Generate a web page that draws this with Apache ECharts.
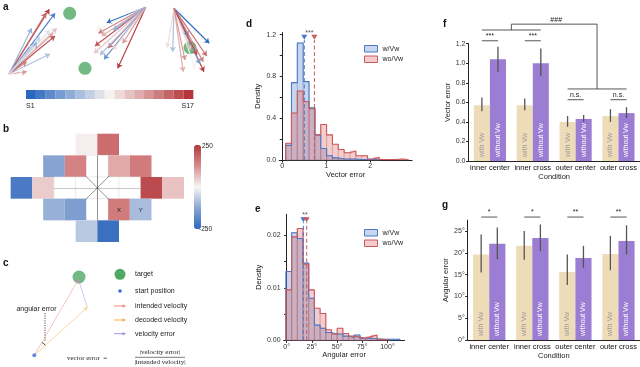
<!DOCTYPE html>
<html>
<head>
<meta charset="utf-8">
<title>Vector / angular error figure</title>
<script src="https://cdn.jsdelivr.net/npm/echarts@6.0.0/dist/echarts.min.js"></script>
<style>
  html, body { margin: 0; padding: 0; background: #fff; }
  #main { width: 640px; height: 367px; }
</style>
</head>
<body>
<div id="main"></div>
<script>
'use strict';

// ---------- data ----------
// panel a: three fans of decoded velocity vectors (origin + tip, session index 0..16)
var fanOrigins = [[9, 74], [145.7, 7.3], [174, 8.3]];
var fanTips = [
  [[49.3, 9.3, 16], [46, 13, 14], [55, 13.3, 1], [31.7, 28.3, 4], [56.7, 28.3, 10], [53.3, 33.3, 11],
   [55, 36, 15], [37.3, 42.7, 2], [50, 54, 5], [33.3, 45, 9], [26.7, 61.7, 13], [26.7, 71.7, 12],
   [23.3, 70, 8], [50, 30, 7], [40, 36.7, 6]],
  [[106.7, 22.7, 0], [96, 30, 8], [98.3, 33.3, 13], [95, 46, 15], [94, 53.3, 10], [104, 59.3, 2],
   [117.7, 68.3, 16], [122.7, 43.3, 12], [112.7, 50, 9], [101.7, 36, 11], [113.3, 30, 4], [108, 48, 14],
   [100, 55, 5]],
  [[209.3, 43.3, 0], [206.7, 56, 14], [204, 71.7, 16], [200, 64, 3], [172.7, 51.7, 5], [167.3, 47.7, 9],
   [183.3, 71.7, 11], [195, 68.3, 8], [190.7, 50, 10], [188.3, 36, 2], [203.3, 61.7, 13], [197, 55, 15],
   [185, 60, 12]]
];
var targets = [[69.7, 13.3], [85, 68.3], [190, 47.7]];
var sessionCount = 17;

// panel b: tuning map cells [column, row, value]
var tuningCells = [
  [3, 0, 10], [4, 0, 170],
  [1.5, 1, -130], [2.5, 1, 140], [3.5, 1, 0], [4.5, 1, 90], [5.5, 1, 150],
  [0, 2, -210], [1, 2, 50], [2, 2, 0], [3, 2, 0], [4, 2, 0], [5, 2, 0], [6, 2, 220], [7, 2, 60],
  [1.5, 3, -110], [2.5, 3, -140], [3.5, 3, 0], [4.5, 3, 150], [5.5, 3, -90],
  [3, 4, -70], [4, 4, -230]
];
var cellTags = ['', '', '', '', '', '', '', '', '', '', '', '', '', '', '', '', '', '', 'X', 'Y', '', ''];
var crossSegments = [
  [[1.5, 2], [5.5, 2], '#888'],
  [[3.5, 0.5], [3.5, 3.5], '#111'],
  [[2.96, 1.46], [4.04, 2.54], '#111'],
  [[2.96, 2.54], [4.04, 1.46], '#111']
];

// panel c: schematic
var startPos = [34.3, 355.3];
var targetPos = [79, 277];
var intendedTip = [78.5, 279.5];
var decodedTip = [87.3, 307.3];

// panel d: vector error histograms
var binStartD = 0.076, binWidthD = 0.133;
var densBlueD = [0.14, 0.74, 1.12, 0.75, 0.50, 0.24, 0.11, 0.04, 0.02, 0.01, 0.01, 0.01, 0.005, 0.005, 0.005, 0.003];
var densRedD = [0.16, 0.45, 0.66, 0.56, 0.49, 0.24, 0.34, 0.24, 0.15, 0.10, 0.07, 0.086, 0.04, 0.04, 0.01, 0.025, 0.005, 0.005, 0.005, 0.01, 0.005];
var meansD = [0.50, 0.73];

// panel e: angular error histograms
var binStartE = -0.7, binWidthE = 5.65;
var densBlueE = [0.0131, 0.0205, 0.0194, 0.0147, 0.0080, 0.0029, 0.0023, 0.0015, 0.0012, 0.0012, 0.0008, 0.0005, 0.0010, 0.0004, 0.0004, 0.0003, 0.0002, 0.0002, 0.0002, 0.0002];
var densRedE = [0.0096, 0.0197, 0.0213, 0.0145, 0.0096, 0.0061, 0.0051, 0.0020, 0.0012, 0.0023, 0.0013, 0.0008, 0.0006, 0.0004, 0.0007, 0.0010, 0.0002, 0.0001];
var meansE = [16.6, 19.9];

// panels f, g
var conditions = ['inner center', 'inner cross', 'outer center', 'outer cross'];
var vecWith = [0.57, 0.57, 0.40, 0.46];
var vecWithout = [1.04, 1.00, 0.43, 0.49];
var vecWithCI = [[0.51, 0.65], [0.52, 0.64], [0.35, 0.46], [0.40, 0.53]];
var vecWithoutCI = [[0.91, 1.17], [0.87, 1.15], [0.40, 0.47], [0.44, 0.55]];
var vecSig = ['***', '***', 'n.s.', 'n.s.'];
var angWith = [19.6, 21.6, 15.6, 19.7];
var angWithout = [22.1, 23.4, 18.8, 22.7];
var angWithCI = [[15.5, 24.2], [18.4, 25.0], [12.6, 19.6], [16.0, 23.9]];
var angWithoutCI = [[18.5, 25.8], [20.4, 26.5], [16.5, 21.6], [19.6, 26.3]];
var angSig = ['*', '*', '**', '**'];

// ---------- helpers ----------
var FONT = 'Liberation Sans';
var C_BLUE = '#4a78c4', C_RED = '#c9595c';
var C_BEIGE = '#eedcb8', C_PURPLE = '#9b7ed3';

function mix(a, b, t) {
  var pa = [parseInt(a.substr(1, 2), 16), parseInt(a.substr(3, 2), 16), parseInt(a.substr(5, 2), 16)];
  var pb = [parseInt(b.substr(1, 2), 16), parseInt(b.substr(3, 2), 16), parseInt(b.substr(5, 2), 16)];
  return 'rgb(' + pa.map(function (v, i) { return Math.round(v + (pb[i] - v) * t); }).join(',') + ')';
}
function sessionColor(i) {
  var t = i / (sessionCount - 1);
  return t < 0.5 ? mix('#2a68bf', '#f6f2f0', t * 2) : mix('#f6f2f0', '#b5363a', (t - 0.5) * 2);
}

function bins(start, width, dens) {
  return dens.map(function (h, i) { return [start + i * width, start + (i + 1) * width, h]; });
}
function stepOutline(start, width, dens) {
  var pts = [[start, 0]];
  dens.forEach(function (h, i) { pts.push([start + i * width, h]); });
  pts.push([start + dens.length * width, 0]);
  return pts;
}
function histRender(fill, stroke) {
  return function (params, api) {
    var a = api.coord([api.value(0), api.value(2)]);
    var b = api.coord([api.value(1), 0]);
    return {
      type: 'rect',
      shape: { x: a[0], y: a[1], width: b[0] - a[0], height: b[1] - a[1] },
      style: { fill: fill, stroke: stroke, lineWidth: 0.7 }
    };
  };
}
function meanRender(colors) {
  return function (params, api) {
    var base = api.coord([api.value(0), 0]);
    var top = api.coord([api.value(0), api.value(1)]);
    var c = colors[params.dataIndex];
    return {
      type: 'group',
      children: [
        { type: 'line', shape: { x1: base[0], y1: base[1], x2: top[0], y2: top[1] },
          style: { stroke: c, lineWidth: 1, lineDash: [4, 2.5] } },
        { type: 'polygon', shape: { points: [[top[0] - 3, top[1] - 5], [top[0] + 3, top[1] - 5], [top[0], top[1]]] },
          style: { fill: c } }
      ]
    };
  };
}
// error bar: [category, low, high, side(-1 with / +1 without)]
function errRender(params, api) {
  var lo = api.coord([api.value(0), api.value(1)]);
  var hi = api.coord([api.value(0), api.value(2)]);
  var band = api.size([1, 0])[0];
  var x = lo[0] + api.value(3) * band * 0.1875;
  return { type: 'line', shape: { x1: x, y1: lo[1], x2: x, y2: hi[1] },
    style: { stroke: '#555', lineWidth: 1.3 } };
}
function sigRender(labels) {
  return function (params, api) {
    var p = api.coord([api.value(0), api.value(1)]);
    var band = api.size([1, 0])[0];
    var x1 = p[0] - band * 0.1875, x2 = p[0] + band * 0.1875;
    return {
      type: 'group',
      children: [
        { type: 'line', shape: { x1: x1, y1: p[1], x2: x2, y2: p[1] }, style: { stroke: '#444', lineWidth: 0.9 } },
        { type: 'text', x: p[0], y: p[1] - 1,
          style: { text: labels[params.dataIndex], fill: '#222', font: '7px ' + FONT, align: 'center', verticalAlign: 'bottom' } }
      ]
    };
  };
}
// group bracket: [lowerLeft y, top y, lowerRight y]
function groupRender(params, api) {
  var band = api.size([1, 0])[0];
  var off = band * 0.1875;
  var l1 = api.coord([0, api.value(0)]), l2 = api.coord([1, api.value(0)]);
  var r1 = api.coord([2, api.value(2)]), r2 = api.coord([3, api.value(2)]);
  var top = api.coord([0, api.value(1)])[1];
  var lm = ((l1[0] - off) + (l2[0] + off)) / 2;
  var rm = ((r1[0] - off) + (r2[0] + off)) / 2;
  var st = { stroke: '#444', lineWidth: 0.9 };
  return {
    type: 'group',
    children: [
      { type: 'line', shape: { x1: l1[0] - off, y1: l1[1], x2: l2[0] + off, y2: l1[1] }, style: st },
      { type: 'line', shape: { x1: r1[0] - off, y1: r1[1], x2: r2[0] + off, y2: r1[1] }, style: st },
      { type: 'polyline', shape: { points: [[lm, l1[1]], [lm, top], [rm, top], [rm, r1[1]]] }, style: { stroke: '#444', lineWidth: 0.9, fill: null } },
      { type: 'text', x: (lm + rm) / 2 + 2, y: top - 1,
        style: { text: '###', fill: '#222', font: '7px ' + FONT, align: 'center', verticalAlign: 'bottom' } }
    ]
  };
}

// ---------- panel a arrows ----------
var arrowData = [];
fanTips.forEach(function (tips, f) {
  tips.forEach(function (t) {
    arrowData.push({ coords: [fanOrigins[f], [t[0], t[1]]], lineStyle: { color: sessionColor(t[2]) } });
  });
});

// ---------- axis templates ----------
var tickFont = { fontSize: 7, color: '#333', fontFamily: FONT };
var nameFont = { fontSize: 7.5, color: '#222', fontFamily: FONT };
var axLine = { show: true, lineStyle: { color: '#222', width: 1 } };
var axTick = { show: true, length: 2.5, lineStyle: { color: '#222' } };
function hiddenAxis(grid, min, max, inverse) {
  return { type: 'value', gridIndex: grid, min: min, max: max, inverse: !!inverse, show: false, splitLine: { show: false } };
}

var myChart = echarts.init(document.getElementById('main'), null, { renderer: 'canvas' });

var graphics = [];
// panel letters
[['a', 3, 7], ['b', 3, 129], ['c', 3, 263], ['d', 246, 24], ['e', 255, 209], ['f', 443, 24], ['g', 442, 205]]
  .forEach(function (l) {
    graphics.push({ type: 'text', x: l[1], y: l[2],
      style: { text: l[0], font: 'bold 10px ' + FONT, fill: '#111', verticalAlign: 'middle' } });
  });
// panel a colour bar (legend of sessions)
for (var s = 0; s < sessionCount; s++) {
  graphics.push({ type: 'rect', shape: { x: 26 + s * 9.84, y: 90, width: 9.9, height: 9 },
    style: { fill: sessionColor(s) } });
}
graphics.push({ type: 'text', x: 26, y: 106.5, style: { text: 'S1', font: '7px ' + FONT, fill: '#222', verticalAlign: 'middle' } });
graphics.push({ type: 'text', x: 194, y: 106.5, style: { text: 'S17', font: '7px ' + FONT, fill: '#222', align: 'right', verticalAlign: 'middle' } });
// panel b colour bar labels
graphics.push({ type: 'text', x: 202, y: 146, style: { text: '250', font: '6.5px ' + FONT, fill: '#222', verticalAlign: 'middle' } });
graphics.push({ type: 'text', x: 199, y: 229.5, style: { text: '-250', font: '6.5px ' + FONT, fill: '#222', verticalAlign: 'middle' } });
// panel c legend
var legC = [['target', 274.3], ['start position', 291], ['intended velocity', 306], ['decoded velocity', 320], ['velocity error', 333.7]];
legC.forEach(function (l) {
  graphics.push({ type: 'text', x: 135, y: l[1], style: { text: l[0], font: '7px ' + FONT, fill: '#222', verticalAlign: 'middle' } });
});
graphics.push({ type: 'circle', shape: { cx: 120, cy: 274.3, r: 5.5 }, style: { fill: '#4fa864' } });
graphics.push({ type: 'circle', shape: { cx: 120, cy: 291, r: 1.8 }, style: { fill: '#3a6fd8' } });
[['#f28b82', 306], ['#f6b24a', 320], ['#a98fe0', 333.7]].forEach(function (a) {
  graphics.push({ type: 'line', shape: { x1: 114, y1: a[1], x2: 125, y2: a[1] }, style: { stroke: a[0], lineWidth: 1 } });
  graphics.push({ type: 'polygon', shape: { points: [[126, a[1]], [122.5, a[1] - 1.8], [122.5, a[1] + 1.8]] }, style: { fill: a[0] } });
});
graphics.push({ type: 'text', x: 36.5, y: 309, style: { text: 'angular error', font: '7px ' + FONT, fill: '#222', align: 'center', verticalAlign: 'middle' } });
graphics.push({ type: 'line', shape: { x1: 45, y1: 313, x2: 45, y2: 341 }, style: { stroke: '#222', lineWidth: 0.8, lineDash: [1.2, 1.2] } });
graphics.push({ type: 'arc', shape: { cx: startPos[0], cy: startPos[1], r: 15, startAngle: -1.05, endAngle: -0.7 }, style: { stroke: '#222', lineWidth: 0.8, fill: null } });
// vector error formula
graphics.push({ type: 'text', x: 67, y: 357.8, style: { text: 'vector error  =', font: '7px "Liberation Serif"', fill: '#222', verticalAlign: 'middle' } });
graphics.push({ type: 'text', x: 160, y: 352.6, style: { text: '|velocity error|', font: '7px "Liberation Serif"', fill: '#222', align: 'center', verticalAlign: 'middle' } });
graphics.push({ type: 'line', shape: { x1: 135, y1: 357.3, x2: 185, y2: 357.3 }, style: { stroke: '#222', lineWidth: 0.6 } });
graphics.push({ type: 'text', x: 160, y: 362.2, style: { text: '|intended velocity|', font: '7px "Liberation Serif"', fill: '#222', align: 'center', verticalAlign: 'middle' } });

var option = {
  backgroundColor: '#fff',
  animation: false,
  textStyle: { fontFamily: FONT },
  grid: [
    { left: 0, top: 0, width: 220, height: 367 },                 // 0: panels a & c canvas
    { left: 10.67, top: 133.7, width: 173.3, height: 108.3 },     // 1: panel b
    { left: 279.2, top: 32.5, width: 132.9, height: 127.5 },      // 2: panel d
    { left: 283.6, top: 214.3, width: 121, height: 126 },         // 3: panel e
    { left: 468.5, top: 43.7, width: 171.5, height: 117.3 },      // 4: panel f
    { left: 467.7, top: 220.1, width: 172.3, height: 119.9 }      // 5: panel g
  ],
  xAxis: [
    hiddenAxis(0, 0, 220),
    hiddenAxis(1, -0.5, 7.5),
    { type: 'value', gridIndex: 2, min: -0.07, max: 2.95, name: 'Vector error', nameLocation: 'middle', nameGap: 10,
      nameTextStyle: nameFont, axisLine: axLine, axisTick: { show: true, length: 2.5, customValues: [0, 1, 2], lineStyle: { color: '#222' } },
      axisLabel: Object.assign({ customValues: [0, 1, 2], margin: 3 }, tickFont), splitLine: { show: false } },
    { type: 'value', gridIndex: 3, min: -3, max: 117, name: 'Angular error', nameLocation: 'middle', nameGap: 10,
      nameTextStyle: nameFont, axisLine: axLine, axisTick: { show: true, length: 2.5, customValues: [0, 25, 50, 75, 100], lineStyle: { color: '#222' } },
      axisLabel: Object.assign({ customValues: [0, 25, 50, 75, 100], margin: 3, formatter: '{value}°' }, tickFont), splitLine: { show: false } },
    { type: 'category', gridIndex: 4, data: conditions, name: 'Condition', nameLocation: 'middle', nameGap: 11,
      nameTextStyle: nameFont, axisLine: axLine, axisTick: { show: false }, axisLabel: Object.assign({ margin: 3, interval: 0 }, tickFont, { fontSize: 7.5, color: '#111' }) },
    { type: 'category', gridIndex: 5, data: conditions, name: 'Condition', nameLocation: 'middle', nameGap: 11,
      nameTextStyle: nameFont, axisLine: axLine, axisTick: { show: false }, axisLabel: Object.assign({ margin: 3, interval: 0 }, tickFont, { fontSize: 7.5, color: '#111' }) }
  ],
  yAxis: [
    hiddenAxis(0, 0, 367, true),
    hiddenAxis(1, -0.5, 4.5, true),
    { type: 'value', gridIndex: 2, min: 0, max: 1.22, name: 'Density', nameLocation: 'middle', nameGap: 17,
      nameTextStyle: nameFont, axisLine: axLine,
      axisTick: { show: true, length: 2.5, customValues: [0, 0.2, 0.4, 0.6, 0.8, 1.0, 1.2], lineStyle: { color: '#222' } },
      axisLabel: Object.assign({ customValues: [0, 0.4, 0.8, 1.2], margin: 3, formatter: function (v) { return v.toFixed(1); } }, tickFont),
      splitLine: { show: false } },
    { type: 'value', gridIndex: 3, min: 0, max: 0.024, name: 'Density', nameLocation: 'middle', nameGap: 21,
      nameTextStyle: nameFont, axisLine: axLine,
      axisTick: { show: true, length: 2.5, customValues: [0, 0.005, 0.01, 0.015, 0.02], lineStyle: { color: '#222' } },
      axisLabel: Object.assign({ customValues: [0, 0.01, 0.02], margin: 3, formatter: function (v) { return v.toFixed(2); } }, tickFont),
      splitLine: { show: false } },
    { type: 'value', gridIndex: 4, min: 0, max: 1.2, interval: 0.2, name: 'Vector error', nameLocation: 'middle', nameGap: 17,
      nameTextStyle: nameFont, axisLine: axLine, axisTick: axTick,
      axisLabel: Object.assign({ margin: 3, formatter: function (v) { return v.toFixed(1); } }, tickFont), splitLine: { show: false } },
    { type: 'value', gridIndex: 5, min: 0, max: 27.5, name: 'Angular error', nameLocation: 'middle', nameGap: 17,
      nameTextStyle: nameFont, axisLine: axLine,
      axisTick: { show: true, length: 2.5, customValues: [0, 5, 10, 15, 20, 25], lineStyle: { color: '#222' } },
      axisLabel: Object.assign({ customValues: [0, 5, 10, 15, 20, 25], margin: 3, formatter: '{value}°' }, tickFont),
      splitLine: { show: false } }
  ],
  visualMap: [{
    type: 'continuous', min: -250, max: 250, seriesIndex: 2, dimension: 2,
    left: 194, top: 145, itemWidth: 7, itemHeight: 84, padding: 0, calculable: false,
    text: null, showLabel: false,
    inRange: { color: ['#2c66bd', '#8aa6d3', '#f7f6f6', '#d98c8d', '#b2373b'] }
  }],
  legend: [
    { top: 45, left: 364, orient: 'vertical', itemWidth: 13, itemHeight: 6.5, itemGap: 3, padding: 0,
      textStyle: { fontSize: 7, color: '#222', fontFamily: FONT },
      data: [
        { name: 'w/Vw', icon: 'rect', itemStyle: { color: 'rgba(74,120,196,0.3)', borderColor: C_BLUE, borderWidth: 1 } },
        { name: 'wo/Vw', icon: 'rect', itemStyle: { color: 'rgba(210,90,90,0.3)', borderColor: C_RED, borderWidth: 1 } }
      ] },
    { top: 229, left: 364, orient: 'vertical', itemWidth: 13, itemHeight: 6.5, itemGap: 3, padding: 0,
      textStyle: { fontSize: 7, color: '#222', fontFamily: FONT },
      data: [
        { name: 'w/Vw', icon: 'rect', itemStyle: { color: 'rgba(74,120,196,0.3)', borderColor: C_BLUE, borderWidth: 1 } },
        { name: 'wo/Vw', icon: 'rect', itemStyle: { color: 'rgba(210,90,90,0.3)', borderColor: C_RED, borderWidth: 1 } }
      ] }
  ],
  graphic: graphics,
  series: [
    // 0: panel a arrows
    { type: 'lines', coordinateSystem: 'cartesian2d', xAxisIndex: 0, yAxisIndex: 0, data: arrowData,
      symbol: ['none', 'arrow'], symbolSize: 5, lineStyle: { width: 1.2, opacity: 0.95 }, z: 3 },
    // 1: targets (a and c)
    { type: 'scatter', xAxisIndex: 0, yAxisIndex: 0, symbolSize: 13, itemStyle: { color: '#4fa864' },
      data: targets.concat([targetPos]), z: 2 },
    // 2: panel b cells
    { type: 'custom', xAxisIndex: 1, yAxisIndex: 1, data: tuningCells,
      encode: { x: 0, y: 1 },
      renderItem: function (params, api) {
        var c = api.value(0), r = api.value(1);
        var p0 = api.coord([c - 0.5, r - 0.5]);
        var p1 = api.coord([c + 0.5, r + 0.5]);
        var x = Math.min(p0[0], p1[0]), y = Math.min(p0[1], p1[1]);
        var w = Math.abs(p1[0] - p0[0]), h = Math.abs(p1[1] - p0[1]);
        var blank = api.value(2) === 0;
        return {
          type: 'group',
          children: [
            { type: 'rect', shape: { x: x, y: y, width: w, height: h },
              style: { fill: blank ? '#fff' : api.visual('color'), stroke: blank ? '#e4e4e4' : null, lineWidth: 0.6 } },
            { type: 'text', x: x + w / 2, y: y + h / 2 + 0.5,
              style: { text: cellTags[params.dataIndex], font: '6px ' + FONT, fill: '#222', align: 'center', verticalAlign: 'middle' } }
          ]
        };
      } },
    // 3: panel b crosshair
    { type: 'lines', coordinateSystem: 'cartesian2d', xAxisIndex: 1, yAxisIndex: 1, symbol: 'none', z: 3,
      data: crossSegments.map(function (s) { return { coords: [s[0], s[1]], lineStyle: { color: s[2], width: 0.9 } }; }) },
    // 4: panel c arrows
    { type: 'lines', coordinateSystem: 'cartesian2d', xAxisIndex: 0, yAxisIndex: 0, symbol: ['none', 'arrow'], symbolSize: 4,
      data: [
        { coords: [startPos, intendedTip], lineStyle: { color: '#f28b82', width: 1 } },
        { coords: [startPos, decodedTip], lineStyle: { color: '#f6b24a', width: 1 } },
        { coords: [decodedTip, intendedTip], lineStyle: { color: '#a98fe0', width: 1 } }
      ], z: 3 },
    // 5: start position
    { type: 'scatter', xAxisIndex: 0, yAxisIndex: 0, symbolSize: 4, itemStyle: { color: '#3a6fd8' }, data: [startPos], z: 4 },

    // panel d
    { name: 'w/Vw', type: 'custom', xAxisIndex: 2, yAxisIndex: 2, encode: { x: [0, 1], y: 2 },
      data: bins(binStartD, binWidthD, densBlueD), renderItem: histRender('rgba(74,120,196,0.3)', 'rgba(74,120,196,0.35)'),
      itemStyle: { color: C_BLUE } },
    { name: 'wo/Vw', type: 'custom', xAxisIndex: 2, yAxisIndex: 2, encode: { x: [0, 1], y: 2 },
      data: bins(binStartD, binWidthD, densRedD), renderItem: histRender('rgba(210,90,90,0.3)', 'rgba(210,90,90,0.35)'),
      itemStyle: { color: C_RED } },
    { type: 'line', xAxisIndex: 2, yAxisIndex: 2, step: 'end', symbol: 'none', data: stepOutline(binStartD, binWidthD, densBlueD),
      lineStyle: { color: C_BLUE, width: 1.1 }, z: 3 },
    { type: 'line', xAxisIndex: 2, yAxisIndex: 2, step: 'end', symbol: 'none', data: stepOutline(binStartD, binWidthD, densRedD),
      lineStyle: { color: C_RED, width: 1.1 }, z: 3 },
    { type: 'custom', xAxisIndex: 2, yAxisIndex: 2, data: meansD.map(function (m) { return [m, 1.15]; }),
      renderItem: meanRender([C_BLUE, C_RED]), z: 4 },
    { type: 'scatter', xAxisIndex: 2, yAxisIndex: 2, symbolSize: 0, data: [[(meansD[0] + meansD[1]) / 2, 1.215]],
      label: { show: true, formatter: '***', fontSize: 7, color: '#222', position: 'inside' } },

    // panel e
    { name: 'w/Vw', type: 'custom', xAxisIndex: 3, yAxisIndex: 3, encode: { x: [0, 1], y: 2 },
      data: bins(binStartE, binWidthE, densBlueE), renderItem: histRender('rgba(74,120,196,0.3)', 'rgba(74,120,196,0.35)'),
      itemStyle: { color: C_BLUE } },
    { name: 'wo/Vw', type: 'custom', xAxisIndex: 3, yAxisIndex: 3, encode: { x: [0, 1], y: 2 },
      data: bins(binStartE, binWidthE, densRedE), renderItem: histRender('rgba(210,90,90,0.3)', 'rgba(210,90,90,0.35)'),
      itemStyle: { color: C_RED } },
    { type: 'line', xAxisIndex: 3, yAxisIndex: 3, step: 'end', symbol: 'none', data: stepOutline(binStartE, binWidthE, densBlueE),
      lineStyle: { color: C_BLUE, width: 1.1 }, z: 3 },
    { type: 'line', xAxisIndex: 3, yAxisIndex: 3, step: 'end', symbol: 'none', data: stepOutline(binStartE, binWidthE, densRedE),
      lineStyle: { color: C_RED, width: 1.1 }, z: 3 },
    { type: 'custom', xAxisIndex: 3, yAxisIndex: 3, data: meansE.map(function (m) { return [m, 0.0225]; }),
      renderItem: meanRender([C_BLUE, C_RED]), z: 4 },
    { type: 'scatter', xAxisIndex: 3, yAxisIndex: 3, symbolSize: 0, data: [[(meansE[0] + meansE[1]) / 2, 0.0238]],
      label: { show: true, formatter: '**', fontSize: 7, color: '#222', position: 'inside' } },

    // panel f
    { name: 'with Vw', type: 'bar', xAxisIndex: 4, yAxisIndex: 4, data: vecWith, barGap: 0, barCategoryGap: '25%',
      itemStyle: { color: C_BEIGE },
      label: { show: true, position: 'insideBottom', distance: 4, rotate: 90, align: 'left', verticalAlign: 'middle',
        formatter: 'with Vw', fontSize: 7, color: '#9a9a9a' } },
    { name: 'without Vw', type: 'bar', xAxisIndex: 4, yAxisIndex: 4, data: vecWithout,
      itemStyle: { color: C_PURPLE },
      label: { show: true, position: 'insideBottom', distance: 4, rotate: 90, align: 'left', verticalAlign: 'middle',
        formatter: 'without Vw', fontSize: 7, color: '#fff' } },
    { type: 'custom', xAxisIndex: 4, yAxisIndex: 4, renderItem: errRender, z: 5,
      data: vecWithCI.map(function (c, i) { return [i, c[0], c[1], -1]; })
        .concat(vecWithoutCI.map(function (c, i) { return [i, c[0], c[1], 1]; })) },
    { type: 'custom', xAxisIndex: 4, yAxisIndex: 4, renderItem: sigRender(vecSig), z: 5,
      data: [[0, 1.23], [1, 1.23], [2, 0.627], [3, 0.627]] },
    { type: 'custom', xAxisIndex: 4, yAxisIndex: 4, renderItem: groupRender, z: 5,
      data: [[1.34, 1.40, 0.737]] },

    // panel g
    { name: 'with Vw', type: 'bar', xAxisIndex: 5, yAxisIndex: 5, data: angWith, barGap: 0, barCategoryGap: '25%',
      itemStyle: { color: C_BEIGE },
      label: { show: true, position: 'insideBottom', distance: 4, rotate: 90, align: 'left', verticalAlign: 'middle',
        formatter: 'with Vw', fontSize: 7, color: '#9a9a9a' } },
    { name: 'without Vw', type: 'bar', xAxisIndex: 5, yAxisIndex: 5, data: angWithout,
      itemStyle: { color: C_PURPLE },
      label: { show: true, position: 'insideBottom', distance: 4, rotate: 90, align: 'left', verticalAlign: 'middle',
        formatter: 'without Vw', fontSize: 7, color: '#fff' } },
    { type: 'custom', xAxisIndex: 5, yAxisIndex: 5, renderItem: errRender, z: 5,
      data: angWithCI.map(function (c, i) { return [i, c[0], c[1], -1]; })
        .concat(angWithoutCI.map(function (c, i) { return [i, c[0], c[1], 1]; })) },
    { type: 'custom', xAxisIndex: 5, yAxisIndex: 5, renderItem: sigRender(angSig), z: 5,
      data: [[0, 28.2], [1, 28.2], [2, 28.2], [3, 28.2]] }
  ]
};

myChart.setOption(option);
</script>
</body>
</html>
